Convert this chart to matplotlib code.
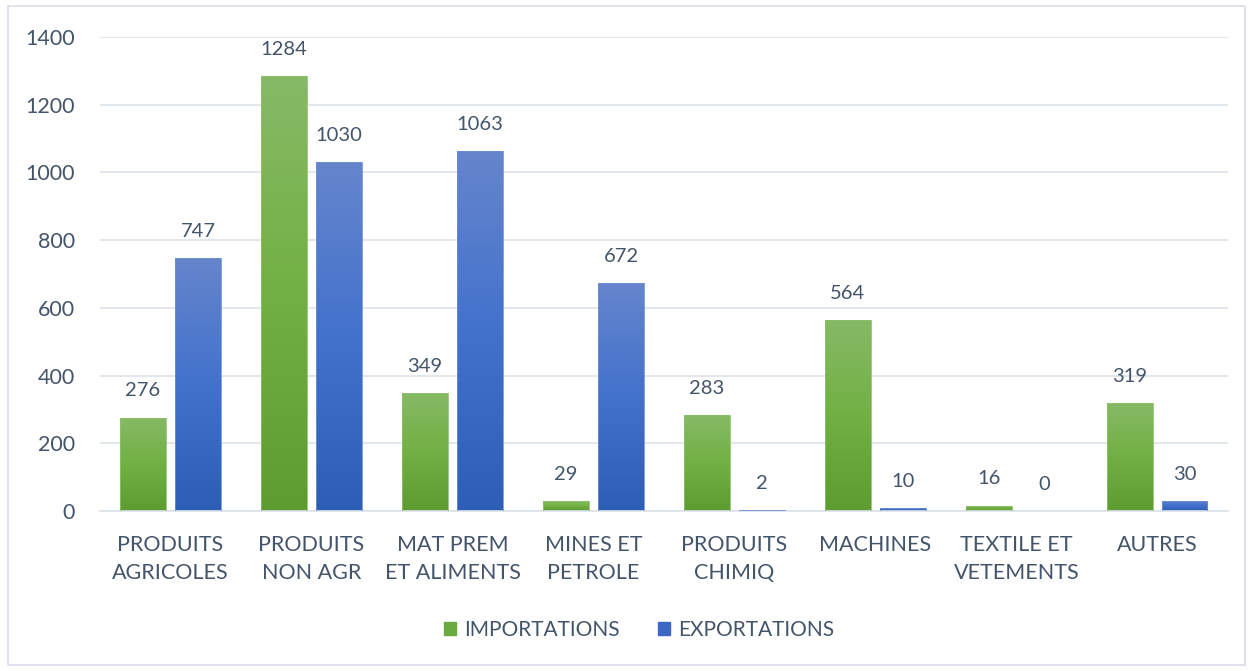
import numpy as np
import matplotlib.pyplot as plt
from matplotlib.colors import LinearSegmentedColormap
from matplotlib.patches import Rectangle, Patch

plt.rcParams["font.family"] = ["Lato", "DejaVu Sans"]

categories = ["PRODUITS\nAGRICOLES", "PRODUITS\nNON AGR", "MAT PREM\nET ALIMENTS",
              "MINES ET\nPETROLE", "PRODUITS\nCHIMIQ", "MACHINES",
              "TEXTILE ET\nVETEMENTS", "AUTRES"]
importations = [276, 1284, 349, 29, 283, 564, 16, 319]
exportations = [747, 1030, 1063, 672, 2, 10, 0, 30]

textcol = "#44546a"
gridcol = "#dde1ea"

fig = plt.figure(figsize=(12.53, 6.71), dpi=100)
ax = fig.add_axes([0.0798, 0.2385, 0.9002, 0.7064])

green_cm = LinearSegmentedColormap.from_list("g", ["#5c9c30", "#72b043", "#86ba66"])
blue_cm = LinearSegmentedColormap.from_list("b", ["#2d5eb5", "#4272cc", "#6685cc"])
grad = np.linspace(0, 1, 256).reshape(-1, 1)

x = np.arange(len(categories))
w = 0.32
off = 0.195


def gradient_bars(xs, vals, cmap, edge):
    bars = ax.bar(xs, vals, w, color="none", edgecolor=edge, linewidth=0.6, zorder=3)
    for b in bars:
        bx, by = b.get_x(), b.get_y()
        bw, bh = b.get_width(), b.get_height()
        if bh <= 0:
            continue
        im = ax.imshow(grad, cmap=cmap, aspect="auto", origin="lower",
                       extent=[bx, bx + bw, by, by + bh], zorder=2)
        im.set_clip_path(Rectangle((bx, by), bw, bh, transform=ax.transData))
    return bars


b1 = gradient_bars(x - off, importations, green_cm, "#8cc06a")
b2 = gradient_bars(x + off, exportations, blue_cm, "#6f8fd4")

for xs, vals in [(x - off, importations), (x + off, exportations)]:
    for xi, v in zip(xs, vals):
        ax.annotate(str(v), (xi, v), xytext=(0, 13), textcoords="offset points",
                    ha="center", va="bottom", fontsize=14.5, color=textcol)

ax.set_xlim(-0.5, len(categories) - 0.5)
ax.set_ylim(0, 1400)
ax.set_yticks(range(0, 1401, 200))
ax.set_xticks(x)
ax.set_xticklabels(categories, linespacing=1.5)
ax.tick_params(axis="both", length=0, labelsize=15.5, labelcolor=textcol)
ax.tick_params(axis="x", pad=17)
ax.tick_params(axis="y", pad=18)
ax.grid(axis="y", color=gridcol, linewidth=1.2, zorder=0)
ax.set_axisbelow(True)
for s in ["top", "right", "left"]:
    ax.spines[s].set_visible(False)
ax.spines["bottom"].set_color(gridcol)
ax.spines["bottom"].set_linewidth(1.2)

handles = [Patch(facecolor="#6aab3f", edgecolor="#6aab3f", label="IMPORTATIONS"),
           Patch(facecolor="#3a68c4", edgecolor="#3a68c4", label="EXPORTATIONS")]
leg = fig.legend(handles=handles, loc="center", bbox_to_anchor=(639 / 1253, 1 - 630 / 671),
                 ncol=2, frameon=False, fontsize=15, handlelength=0.6, handleheight=0.6,
                 handletextpad=0.4, columnspacing=1.8)
for t in leg.get_texts():
    t.set_color(textcol)

# outer frame
fig.patches.append(Rectangle((8 / 1253, 6 / 671), 1 - 16 / 1253, 1 - 12 / 671,
                             transform=fig.transFigure, fill=False,
                             edgecolor="#d9dde6", linewidth=1.2))

fig.savefig("out.png", dpi=100)
